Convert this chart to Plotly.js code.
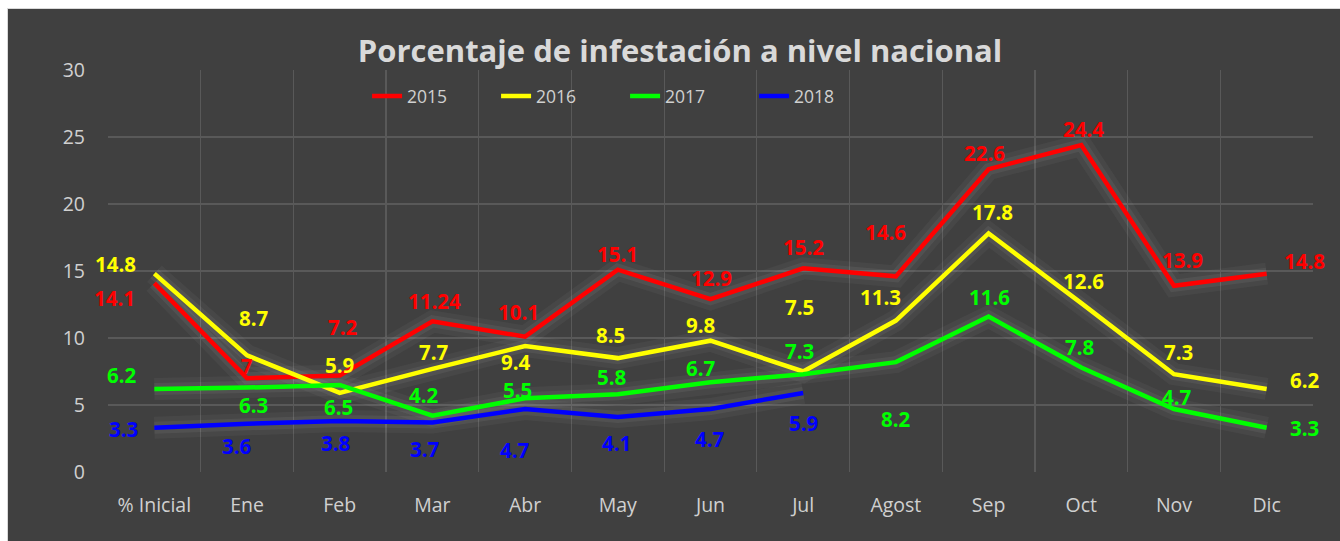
<!DOCTYPE html>
<html>
<head>
<meta charset="utf-8">
<script src="https://cdn.plot.ly/plotly-3.0.1.min.js"></script>
<style>
  html, body { margin: 0; padding: 0; background: #ffffff; width: 1340px; height: 541px; overflow: hidden; }
  #frame { position: absolute; left: 7px; top: 8px; width: 1333px; height: 533px; background: #d9d9d9; }
  #chart { position: absolute; left: 1px; top: 1px; width: 1332px; height: 532px; }
</style>
</head>
<body>
<div id="frame"><div id="chart"></div></div>
<script>
// ---- data ----
const categories = ["% Inicial", "Ene", "Feb", "Mar", "Abr", "May", "Jun", "Jul", "Agost", "Sep", "Oct", "Nov", "Dic"];
const seriesNames = ["2015", "2016", "2017", "2018"];
const values2015 = [14.1, 7, 7.2, 11.24, 10.1, 15.1, 12.9, 15.2, 14.6, 22.6, 24.4, 13.9, 14.8];
const values2016 = [14.8, 8.7, 5.9, 7.7, 9.4, 8.5, 9.8, 7.5, 11.3, 17.8, 12.6, 7.3, 6.2];
const values2017 = [6.2, 6.3, 6.5, 4.2, 5.5, 5.8, 6.7, 7.3, 8.2, 11.6, 7.8, 4.7, 3.3];
const values2018 = [3.3, 3.6, 3.8, 3.7, 4.7, 4.1, 4.7, 5.9];
const yTicks = [0, 5, 10, 15, 20, 25, 30];

// ---- styling (label pixel offsets, screen dx / dy) ----
const colors = ["#ff0000", "#ffff00", "#00ff00", "#0000ff"];
const labelOffsets = [
  [[-40,15],[0,-12],[3,-49],[2,-20],[-7,-25],[0,-16],[1,-21],[0,-21],[-10,-44],[-4,-16],[2,-16],[9,-26],[38,-13]],
  [[-39,-10],[7,-37],[0,-28],[2,-17],[-9,16],[-7,-23],[-10,-16],[-4,-65],[-15,-24],[4,-21],[2,-22],[5,-22],[38,-9]],
  [[-32,-14],[6,17],[-1,22],[-8,-21],[-8,-8],[-6,-17],[-10,-14],[-4,-23],[0,57],[1,-20],[-2,-20],[3,-12],[38,0]],
  [[-31,1],[-10,22],[-4,22],[-7,27],[-10,41],[-1,26],[-1,30],[0,30]]
];

const allValues = [values2015, values2016, values2017, values2018];
const FONT = "'Open Sans', 'Noto Sans', sans-serif";
const traces = [];
// glow underlay
allValues.forEach((vals) => {
  const xs = categories.slice(0, vals.length);
  traces.push({x: xs, y: vals, type: "scatter", mode: "lines", showlegend: false, hoverinfo: "skip",
    line: {color: "rgba(255,255,255,0.04)", width: 22}});
  traces.push({x: xs, y: vals, type: "scatter", mode: "lines", showlegend: false, hoverinfo: "skip",
    line: {color: "rgba(255,255,255,0.06)", width: 12}});
});
allValues.forEach((vals, s) => {
  traces.push({x: categories.slice(0, vals.length), y: vals, type: "scatter", mode: "lines",
    name: seriesNames[s], line: {color: colors[s], width: 4.5}});
});

const annotations = [];
allValues.forEach((vals, s) => {
  vals.forEach((v, i) => {
    annotations.push({x: categories[i], y: v, xref: "x", yref: "y", text: String(v), showarrow: false,
      xshift: labelOffsets[s][i][0], yshift: -labelOffsets[s][i][1], xanchor: "center", yanchor: "middle",
      borderpad: 0,
      font: {family: FONT, size: 20.5, color: colors[s], weight: "bold"}});
  });
});

const layout = {
  width: 1332, height: 532,
  paper_bgcolor: "#404040", plot_bgcolor: "#404040",
  margin: {l: 100, r: 27, t: 61, b: 69},
  title: {text: "<b>Porcentaje de infestación a nivel nacional</b>", x: 0.5045, xanchor: "center", y: 0.92, yanchor: "middle",
    font: {family: FONT, size: 31, color: "#d9d9d9"}},
  showlegend: true,
  legend: {orientation: "h", x: 0.215, xanchor: "left", y: 0.935, yanchor: "middle", bgcolor: "rgba(0,0,0,0)",
    font: {family: FONT, size: 17.5, color: "#d0d0d0"}, entrywidth: 84, entrywidthmode: "pixels", itemwidth: 30,
    traceorder: "normal"},
  xaxis: {type: "category", range: [-0.5, 12.5], tickson: "boundaries", showgrid: true, gridcolor: "#595959", gridwidth: 1.3,
    ticks: "", showline: false, zeroline: false, ticklabelstandoff: 19,
    tickfont: {family: FONT, size: 19.5, color: "#d0d0d0"}, fixedrange: true},
  yaxis: {range: [0, 30], tickvals: yTicks, showgrid: true, gridcolor: "#595959", gridwidth: 1.3, zeroline: false,
    ticks: "", showline: false, ticklabelstandoff: 22,
    tickfont: {family: FONT, size: 19.5, color: "#d0d0d0"}, fixedrange: true},
  annotations: annotations
};

Plotly.newPlot("chart", traces, layout, {displayModeBar: false, staticPlot: true});
</script>
</body>
</html>
